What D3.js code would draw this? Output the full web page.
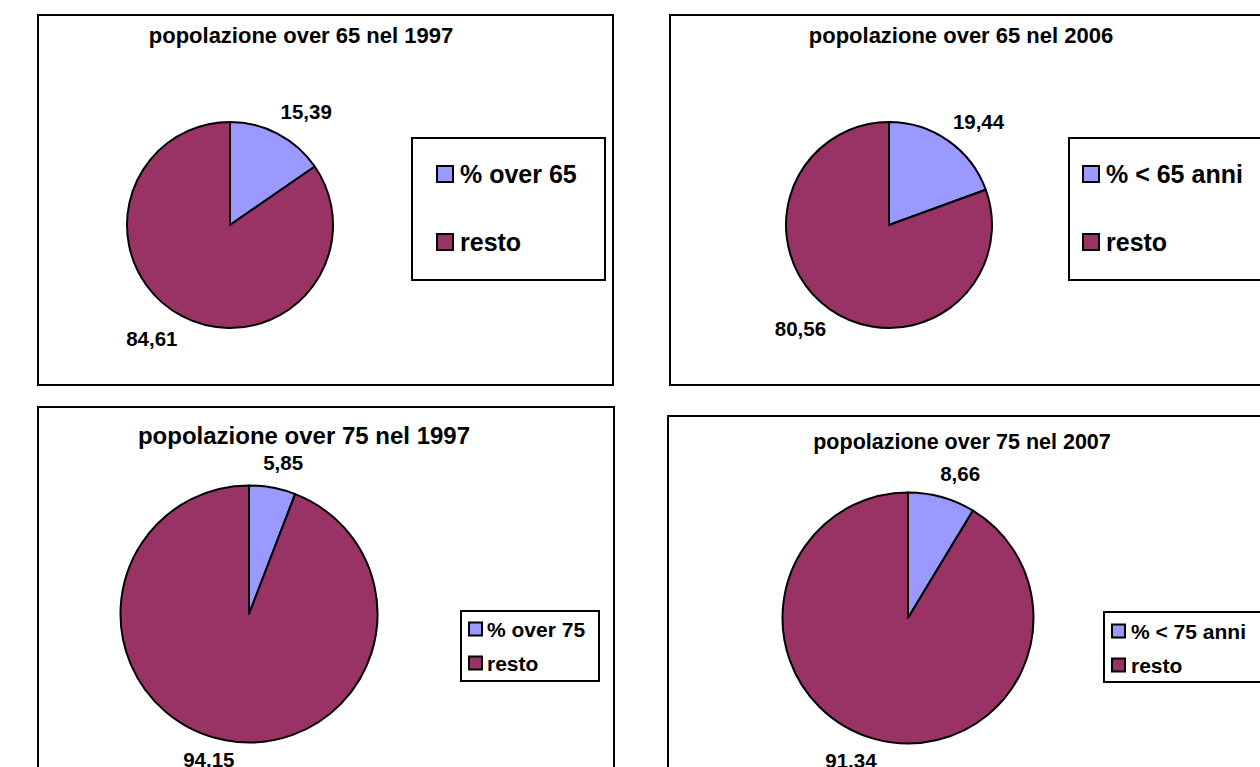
<!DOCTYPE html>
<html>
<head>
<meta charset="utf-8">
<script src="https://cdn.jsdelivr.net/npm/d3@7"></script>
<style>
  body { margin: 0; background: #fff; }
  svg { display: block; }
  text { font-family: "Liberation Sans", Arial, sans-serif; font-weight: bold; fill: #000; }
</style>
</head>
<body>
<div id="chart"></div>
<script>
// data
const titles = [
  'popolazione over 65 nel 1997',
  'popolazione over 65 nel 2006',
  'popolazione over 75 nel 1997',
  'popolazione over 75 nel 2007'
]
const sliceNames = [
  ['% over 65', 'resto'],
  ['% < 65 anni', 'resto'],
  ['% over 75', 'resto'],
  ['% < 75 anni', 'resto']
]
const sliceValues = [
  [15.39, 84.61],
  [19.44, 80.56],
  [5.85, 94.15],
  [8.66, 91.34]
]
const colors = ['#9999FF', '#993366']

// layout of each panel (positions only)
let layout = [
  { box: [38, 15, 575, 370], title: [301, 43, 22], pie: [230, 225, 103],
    nudge: [[19, -4], [-21, 5]],
    legend: { box: [412, 138, 193, 142], sq: 16, sqX: 437, txtX: 460, rows: [174, 242], font: 25 } },
  { box: [670, 15, 620, 370], title: [961, 43, 22], pie: [889, 225, 103],
    nudge: [[19, -3], [-18, 3]],
    legend: { box: [1069, 138, 220, 142], sq: 16, sqX: 1083, txtX: 1106, rows: [174, 242], font: 25 } },
  { box: [38, 407, 576, 400], title: [304, 444, 24], pie: [249, 614, 128.5],
    nudge: [[7, -5], [-13, 0]],
    legend: { box: [461, 611, 138, 70], sq: 13, sqX: 469, txtX: 487, rows: [629, 663], font: 21 } },
  { box: [668, 416, 620, 400], title: [962, 449, 21.5], pie: [908, 618, 125.5],
    nudge: [[13, -4], [-18, 2]],
    legend: { box: [1104, 612, 180, 70], sq: 13, sqX: 1112, txtX: 1131, rows: [631, 665], font: 21 } }
]

let width = 1260
let height = 767

let svg = d3
  .select('#chart')
  .append('svg')
  .attr('width', width)
  .attr('height', height)

svg.append('rect')
  .attr('width', width)
  .attr('height', height)
  .attr('fill', '#fff')

let pie = d3.pie().sort(null).value(d => d)

layout.forEach(function(L, i) {
  let g = svg.append('g')

  // panel frame
  g.append('rect')
    .attr('x', L.box[0])
    .attr('y', L.box[1])
    .attr('width', L.box[2])
    .attr('height', L.box[3])
    .attr('fill', '#fff')
    .attr('stroke', '#000')
    .attr('stroke-width', 2)

  g.append('text')
    .text(titles[i])
    .attr('x', L.title[0])
    .attr('y', L.title[1])
    .attr('text-anchor', 'middle')
    .attr('font-size', L.title[2] + 'px')

  let cx = L.pie[0], cy = L.pie[1], r = L.pie[2]
  let arcs = pie(sliceValues[i])
  let arc = d3.arc().innerRadius(0).outerRadius(r)
  let labelArc = d3.arc().innerRadius(r + 20).outerRadius(r + 20)

  let pg = g.append('g').attr('transform', 'translate(' + cx + ',' + cy + ')')

  pg.selectAll('path')
    .data(arcs)
    .enter()
    .append('path')
    .attr('d', arc)
    .attr('fill', (d, j) => colors[j])
    .attr('stroke', '#000')
    .attr('stroke-width', 2)
    .attr('stroke-linejoin', 'round')

  // data labels, "outside end" like the original
  pg.selectAll('text')
    .data(arcs)
    .enter()
    .append('text')
    .text(d => d3.format('.2f')(d.data).replace('.', ','))
    .attr('x', (d, j) => labelArc.centroid(d)[0] + L.nudge[j][0])
    .attr('y', (d, j) => labelArc.centroid(d)[1] + L.nudge[j][1])
    .attr('text-anchor', 'middle')
    .attr('dy', '0.36em')
    .attr('font-size', '20.5px')

  // legend
  let lg = L.legend
  g.append('rect')
    .attr('x', lg.box[0])
    .attr('y', lg.box[1])
    .attr('width', lg.box[2])
    .attr('height', lg.box[3])
    .attr('fill', '#fff')
    .attr('stroke', '#000')
    .attr('stroke-width', 2)

  let items = g.selectAll('.item')
    .data(sliceNames[i])
    .enter()
    .append('g')
    .attr('class', 'item')

  items.append('rect')
    .attr('x', lg.sqX)
    .attr('y', (d, j) => lg.rows[j] - lg.sq / 2)
    .attr('width', lg.sq)
    .attr('height', lg.sq)
    .attr('fill', (d, j) => colors[j])
    .attr('stroke', '#000')
    .attr('stroke-width', 2)

  items.append('text')
    .text(d => d)
    .attr('x', lg.txtX)
    .attr('y', (d, j) => lg.rows[j])
    .attr('dy', '0.36em')
    .attr('font-size', lg.font + 'px')
})
</script>
</body>
</html>
